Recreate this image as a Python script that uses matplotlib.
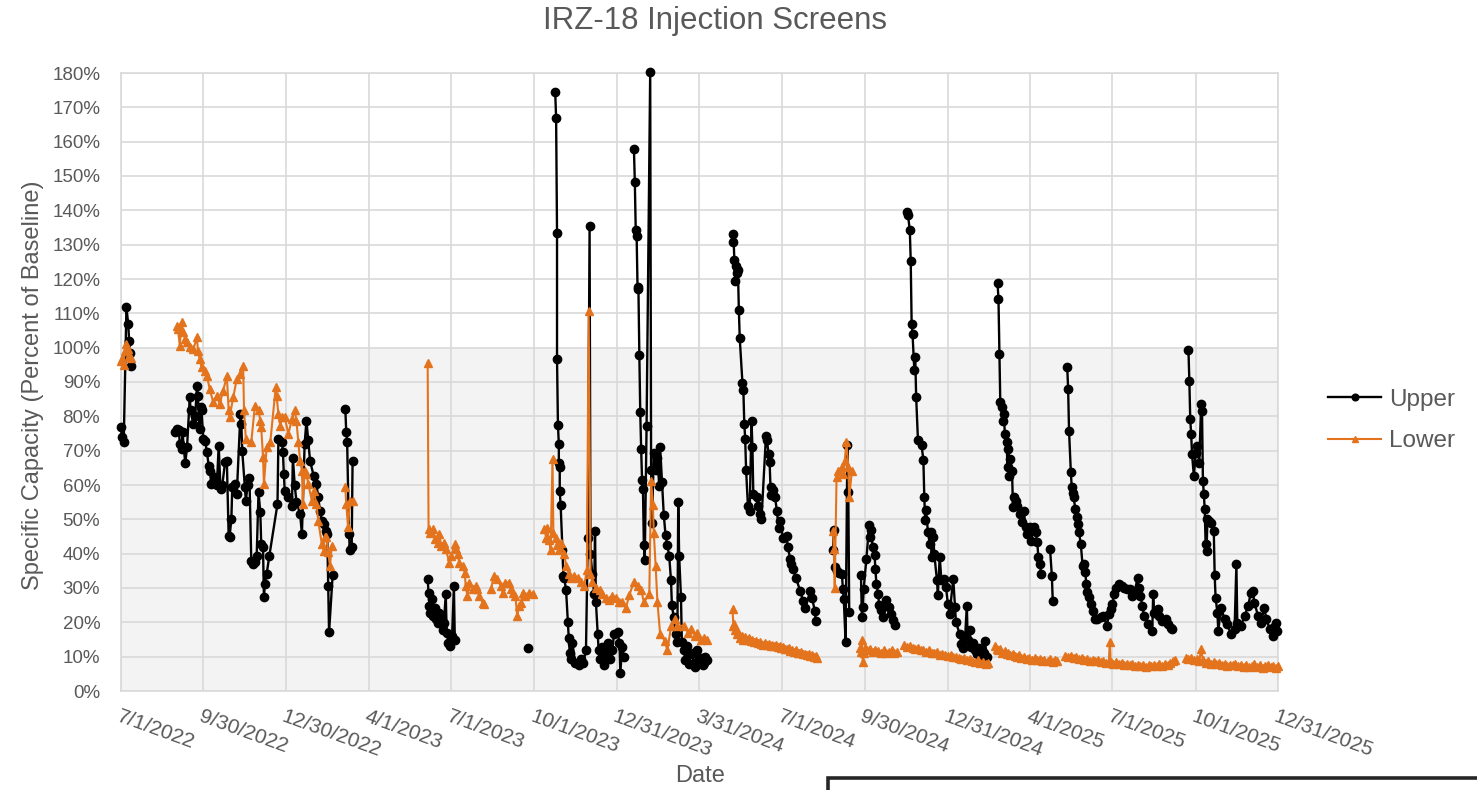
import numpy as np
import matplotlib
matplotlib.use("Agg")
import matplotlib.pyplot as plt
import matplotlib.dates as mdates
from matplotlib.patches import Rectangle

plt.rcParams['font.family'] = ['Liberation Sans', 'DejaVu Sans']

START_DATE = "2022-07-01"   # day 0 of the day offsets below
N = None                    # gap in the record

# ---------------- Upper screen (days since START_DATE, % of baseline) ----------------
upper_days = [
    0, 1, 3, 6, 8, 9, 10, 11, N,
    60, 62, 64, 65, 67, 68, 71, 73, 76, 77, 80, 82, 84, 85, 87, 88, 89, 91, 93, 95,
    97, 98, 100, 102, 104, 106, 108, 110, 112, 115, 117, 119, 120, 122, 123, 126, 128, 132, 133, 134,
    137, 138, 140, 142, 144, 146, 148, 150, 152, 154, 155, 157, 158, 159, 161, 164, 173, 174, 178, 179,
    180, 181, 185, 189, 190, 192, 194, 198, 200, 203, 205, 207, 209, 213, 216, 218, 220, 222, 224, 227,
    228, 229, 230, 234, N,
    248, 249, 250, 252, 253, 255, 256, N,
    339, 340, 341, 342, 344, 345, 347, 348, 350, 352, 354, 356, 357, 359, 360, 362, 364, 366, 368, 369, N,
    450, N,
    480, 481, 482, 482, 483, 484, 484, 485, 485, 486, 488, 489, 490, 492, 494, 495, 496, 497, 499, 502,
    506, 508, 511, 514, 516, 518, 519, 521, 523, 524, 525, 527, 528, 530, 532, 534, 536, 538, 539, 541,
    543, 545, 549, 551, 552, 554, 556, N,
    567, 568, 569, 570, 571, 572, 573, 574, 575, 576, 577, 578, 579, 581, 585, 586, 587, 589, 591, 593,
    595, 596, 598, 600, 602, 604, 606, 608, 609, 611, 613, 615, 616, 617, 619, 620, 622, 624, 626, 628,
    630, 632, 633, 635, 637, 639, 641, 643, 645, 646, 648, N,
    676, 677, 678, 679, 680, 681, 682, 683, 684, 687, 688, 689, 690, 691, 693, 695, 697, 698, 699, 703,
    704, 706, 708, 713, 714, 716, 717, 718, 719, 721, 723, 725, 727, 728, 732, 736, 737, 740, 741, 743,
    746, 751, 754, 756, 762, 764, 767, 768, N,
    787, 788, 789, 791, 794, 797, 798, 799, 801, 803, 804, 805, N,
    818, 819, 820, 821, 824, 827, 828, 829, 831, 833, 834, 835, 837, 838, 840, 842, 846, 849, 851, 853,
    856, N,
    869, 870, 872, 873, 874, 875, 877, 878, 879, 881, 885, 887, 888, 889, 890, 892, 894, 895, 896, 898,
    899, 902, 903, 905, 907, 910, 912, 914, 916, 920, 922, 923, 927, 929, 931, 933, 935, 936, 938, 940,
    942, 944, 946, 948, 950, 952, 954, 955, 957, N,
    969, 970, 971, 972, 974, 975, 976, 977, 979, 980, 981, 982, 983, 985, 986, 987, 989, 990, 994, 996,
    998, 1000, 1002, 1005, 1006, 1009, 1011, 1013, 1014, 1016, 1017, N,
    1027, 1029, 1030, N,
    1046, 1047, 1048, 1050, 1051, 1052, 1053, 1055, 1057, 1058, 1059, 1061, 1063, 1064, 1066, 1067, 1068,
    1070, 1072, 1075, 1077, 1079, 1083, 1086, 1090, 1092, 1094, 1096, 1098, 1100, 1103, 1106, 1109, 1112,
    1115, 1118, 1120, 1124, 1125, 1127, 1129, 1131, 1135, 1140, 1141, 1142, 1146, 1148, 1151, 1155, 1157,
    1161, 1162, N,
    1180, 1181, 1182, 1183, 1184, 1186, 1188, 1190, 1192, 1194, 1195, 1196, 1197, 1198, 1199, 1200, 1201,
    1203, 1205, 1208, 1209, 1210, 1212, 1213, 1216, 1220, 1223, 1227, 1231, 1233, 1234, 1238, 1242, 1246,
    1249, 1251, 1253, 1257, 1260, 1264, 1266, 1270, 1273, 1275, 1277, 1278,
]
upper_vals = [
    76.8, 73.9, 72.4, 111.7, 106.9, 102, 98.5, 94.8, N,
    75.3, 76.3, 76, 71.9, 70.5, 75.3, 66.3, 71, 85.5, 81.7, 77.8, 80, 88.9, 86, 76.3, 82.6, 81.7, 73.5, 72.9, 69.5,
    65.6, 64.2, 60.3, 61, 62.2, 60, 71.5, 58.8, 60, 66.6, 67.1, 45.2, 44.8, 50.1, 59.3, 60.3, 57.4, 80.7, 77.8, 70,
    59.3, 55.4, 60, 62, 38, 37, 37.5, 39.4, 57.9, 52, 42.8, 41.8, 27.3, 31.2, 34.1, 39.4, 54.5, 73.4, 72.4, 69.5,
    63.2, 58.3, 56.4, 54, 68, 60, 55, 51.6, 45.7, 72, 78.7, 73, 67, 62.7, 60.3, 56.4, 52.5, 49.6, 48.6, 46.7,
    45.7, 30.7, 17.1, 33.9, N,
    82, 75.3, 72.4, 45.7, 41.2, 41.8, 67, N,
    32.5, 28.6, 24.8, 22.8, 26.7, 21.8, 24.3, 20.9, 19.9, 22.8, 21.8, 17.9, 19.9, 28.2, 17, 14.1, 13.1, 16, 30.6, 15, N,
    12.6, N,
    174.4, 166.8, 133.5, 96.7, 77.6, 71.8, 66.5, 65.3, 58.2, 54.1, 41.2, 33.5, 32.9, 29.4, 20, 15.3, 11.2, 9.4, 14.1, 8.2,
    7.6, 9.4, 8.2, 11.8, 44.7, 135.3, 40, 34.1, 28.2, 46.5, 25.9, 16.5, 11.8, 9.4, 12.9, 7.6, 10.6, 14.1, 11.8, 9.4,
    11.8, 16.5, 17.1, 14.1, 5.3, 12.9, 10, N,
    158, 148.3, 134.4, 132.6, 117.6, 117, 97.9, 81.2, 70.4, 61.5, 58.7, 42.4, 38.2, 77.3, 180.4, 64.5, 49, 69.2, 64.5, 68,
    59.7, 71, 60.9, 51.3, 45.3, 42.4, 39.4, 32.2, 25, 21.5, 16.7, 14.3, 55.1, 39.4, 27.4, 14.3, 11.9, 9, 13.1, 8,
    10.7, 11, 8.3, 7, 11.9, 9, 9.5, 7.5, 8.3, 10, 9, N,
    130.7, 133.2, 125.6, 119.3, 123.7, 121.7, 122.5, 111, 102.7, 89.6, 87.6, 77.9, 73.5, 64.4, 54, 52.5, 78.6, 71, 57.4, 56.4,
    54, 51.5, 50, 74.4, 73, 69, 66.6, 59.3, 57, 58.6, 56.5, 52.5, 47.6, 49.5, 44.7, 45.2, 41.8, 38.4, 36.9, 35.5,
    33, 29, 26.1, 24.2, 29, 27, 23.3, 20.4, N,
    41, 46.8, 36.1, 35, 34.5, 34, 29.6, 26.7, 14.3, 71.6, 58, 23, N,
    33.7, 21.6, 24.5, 29.8, 38.5, 48.3, 44.9, 46.8, 41.9, 39.5, 35.6, 31.3, 28.3, 25, 23.5, 21.6, 26.4, 24.5, 22.5, 20.6,
    19.1, N,
    139.5, 138.5, 134.2, 125.2, 107, 103.9, 93.4, 97.3, 85.6, 73, 71.6, 67.2, 56.5, 49.7, 52.6, 46.3, 42.9, 46.3, 39, 44.9,
    40, 32.2, 27.9, 39, 32.2, 32.7, 30.3, 25.4, 22.5, 32.7, 24.5, 20.1, 16.7, 13.8, 12.5, 15, 24.9, 14.8, 17.7, 12.8,
    14, 11.8, 10.8, 12.5, 10.2, 12, 11, 14.7, 9.8, N,
    118.7, 114.2, 98.2, 84.1, 82.6, 78.7, 80.7, 74.9, 72.4, 65.1, 70.5, 62.7, 67.6, 64.2, 53.5, 56.4, 55.4, 54, 51.6, 49.1,
    52.5, 47.7, 45.7, 47.7, 43.8, 47.7, 46.2, 43.3, 38.9, 37, 34.1, N,
    41.4, 33.6, 26.3, N,
    94.3, 88, 75.8, 63.7, 59.3, 57.8, 56.4, 53, 50.6, 48.6, 46.2, 42.8, 36.5, 37, 34.6, 31.2, 28.7,
    27.3, 25.3, 23.4, 21, 21, 21.5, 21.8, 19, 22.4, 23.8, 25.3, 28.3, 30.1, 31.1, 30.6, 30.1, 29.7,
    29.6, 27.8, 28.6, 33, 30.1, 27.7, 24.8, 21.8, 19.4, 17.5, 28.2, 22.8, 23.8, 21.8, 20.4, 20.9, 19.4,
    18.4, 18, N,
    99.3, 90.3, 79.1, 74.8, 68.9, 62.6, 69.4, 71.4, 66.5, 83.5, 81.6, 61.2, 57.3, 52.9, 42.7, 40.8, 50,
    49.5, 49, 46.6, 33.7, 27.2, 22.8, 17.5, 24.3, 20.9, 19.4, 16.5, 18, 36.9, 19.9, 18.9, 21.8, 24.8,
    28.6, 29.1, 25.7, 21.8, 19.9, 24.3, 20.9, 18, 16, 18.5, 19.9, 17.5,
]

# ---------------- Lower screen ----------------
lower_days = [
    0, 1, 3, 4, 6, 8, 9, 11, N,
    62, 63, 65, 67, 69, 71, 73, 76, 80, 84, 85, 87, 89, 93, 95, 98, 102, 106, 109, 113,
    117, 119, 120, 124, 128, 132, 135, 136, 138, 144, 148, 152, 154, 155, 157, 158, 161, 165, 171, 172,
    174, 176, 178, 181, 185, 189, 192, 194, 196, 198, 200, 201, 203, 205, 207, 211, 213, 216, 218, 222,
    224, 225, 227, 229, 231, 233, N,
    248, 249, 251, 253, 256, N,
    339, 340, 342, 345, 347, 350, 352, 354, 357, 359, 363, 365, 369, 370, 372, 374, 378, 380, 381, 383,
    385, 389, 392, 394, 396, 400, 401, N,
    409, 412, 416, 420, 422, 425, 429, 431, 433, 436, 438, 440, 442, 444, 447, 451, 455, N,
    468, 470, 471, 473, 475, 477, 478, 481, 482, 484, 486, 490, 492, 495, 497, 501, 505, 508, 512, 515,
    517, 519, 521, 525, 529, 532, 536, 540, 543, 547, 551, 554, 558, 562, 567, 571, 575, 578, 584, 586,
    588, 589, 591, 593, 596, 601, 604, 608, 612, 615, 622, 627, 630, 635, 637, 641, 645, 648, N,
    676, 677, 678, 679, 681, 682, 684, 686, 688, 690, 692, 694, 696, 698, 700, 702, 704, 706, 708, 710,
    712, 714, 716, 718, 720, 722, 724, 726, 728, 730, 732, 734, 736, 738, 740, 742, 744, 746, 748, 750,
    752, 754, 756, 758, 760, 762, 764, 766, 768, 769, N,
    787, 788, 789, 791, 793, 797, 798, 800, 802, 804, 805, 808, N,
    817, 818, 819, 820, 821, 823, 825, 828, 831, 834, 837, 840, 843, 846, 849, 852, 855, 858, N,
    866, 869, 872, 875, 878, 881, 884, 887, 890, 893, 896, 899, 902, 905, 908, 911, 914, 917, 920, 923,
    926, 929, 932, 935, 938, 941, 944, 947, 950, 953, 956, 958, N,
    966, 968, 970, 972, 974, 977, 979, 981, 983, 986, 988, 990, 993, 995, 998, 1001, 1004, 1007, 1010, 1013,
    1016, 1018, 1020, N,
    1025, 1027, 1030, 1033, 1035, N,
    1044, 1047, 1050, 1053, 1056, 1059, 1062, 1065, 1068, 1071, 1074, 1077, 1080, 1083, 1086, 1089, 1092,
    1093, 1094, 1097, 1100, 1103, 1106, 1109, 1112, 1115, 1118, 1121, 1124, 1127, 1130, 1133, 1136, 1139,
    1142, 1145, 1148, 1151, 1154, 1157, 1160, 1163, 1165, N,
    1177, 1180, 1183, 1186, 1189, 1192, 1194, 1196, 1199, 1202, 1205, 1208, 1211, 1214, 1217, 1220, 1223,
    1226, 1229, 1232, 1235, 1238, 1241, 1244, 1247, 1250, 1253, 1256, 1259, 1262, 1265, 1268, 1271, 1274,
    1277, 1279,
]
lower_vals = [
    96.2, 96.7, 95, 99.1, 101, 99.6, 97.7, 97, N,
    106.4, 105.4, 100.6, 107.4, 104.5, 102.5, 101.6, 100.1, 99.6, 103, 99.1, 96.7, 94.3, 93.3, 91.8, 88, 84.1, 86, 83.6, 87.5,
    91.8, 81.7, 79.7, 85.5, 90.9, 92.3, 94.8, 81.7, 73.4, 72.4, 83.1, 81.7, 78.7, 76.8, 68.1, 60.3, 71, 72.4, 88.4, 86,
    80.7, 77.3, 79.7, 79.7, 74.9, 79.2, 81.7, 78.7, 72.4, 67.1, 64.2, 54.5, 64.2, 63.2, 60.3, 55.4, 58.3, 54.5, 49.6, 42.8,
    40.9, 44.8, 44.8, 40.4, 36.5, 42.3, N,
    59.3, 54.5, 47.7, 55.4, 55.4, N,
    95.6, 47.1, 46.1, 47.1, 44.2, 43.2, 45.6, 42.2, 43.2, 41.3, 37.4, 39.3, 42.7, 41.3, 39.8, 37.4, 36.4, 34.5, 30.6, 27.7,
    31.6, 29.6, 30.6, 29.6, 27.7, 25.7, 25.2, N,
    29.6, 33.5, 32.5, 30.6, 28.6, 31.6, 31.6, 29.6, 28.6, 27.7, 21.8, 24.8, 25.7, 28.6, 27.7, 28.6, 28.2, N,
    47.1, 44.7, 47.6, 44.1, 41.2, 67.6, 45.9, 44.7, 42.4, 41.2, 43, 40, 36.5, 34.1, 32.9, 33.5, 32.9, 31.8, 30.6, 35.3,
    110.6, 34.1, 31.8, 30, 29.4, 28.2, 27.1, 26.5, 27.6, 27.1, 25.9, 25.9, 24.1, 28, 31.8, 30.6, 29.4, 25.9, 28.2, 61.2,
    54.1, 45.9, 36.5, 25.9, 16.5, 14.7, 11.8, 18.8, 21, 19, 19, 17, 18, 16, 17, 15, 15.5, 15, N,
    23.8, 18.9, 19.6, 17.8, 16.5, 17.2, 15.5, 16, 15, 15.8, 14.8, 15.3, 14.5, 15, 14.3, 14.7, 14, 14.4, 13.7, 13.5,
    14, 13.3, 13.8, 13.1, 13.4, 13, 13.5, 12.8, 13.2, 12.6, 12.9, 12.3, 12.1, 12.6, 11.6, 12, 11.4, 11.8, 11.2, 11.1,
    11.5, 10.9, 10.8, 10.6, 10.9, 10.1, 10.4, 9.9, 10.2, 9.6, N,
    46.7, 41.3, 30.1, 62.3, 64.2, 65.2, 63.2, 67.1, 72.5, 65.2, 56.4, 64.2, N,
    12.5, 11.5, 14.8, 8.5, 11, 12.5, 11.8, 12.2, 11.4, 12, 11.6, 11, 11.8, 11.2, 11.5, 12, 11, 11.4, N,
    13.3, 12.8, 13, 12.5, 12.2, 12.6, 12, 11.8, 11.5, 11.9, 11.2, 11, 11.3, 10.6, 10.8, 10.4, 10.1, 10.5, 9.8, 10,
    9.6, 9.3, 9.7, 9, 9.2, 8.7, 8.4, 8.9, 8.2, 8.5, 7.9, 8.3, N,
    13.2, 12.2, 11.8, 12.3, 11.2, 11.6, 10.8, 11.2, 10.4, 10.9, 10.2, 9.8, 10.4, 9.6, 9.9, 9.4, 9.7, 9.1, 9.5, 8.9,
    9.2, 8.6, 9, N,
    8.8, 9.2, 8.5, 8.9, 8.6, N,
    10.3, 9.9, 10.1, 9.5, 9.8, 9.2, 9.5, 9, 9.3, 8.8, 9.1, 8.6, 8.9, 8.4, 8.7, 8.2, 8.5,
    14.2, 8.4, 8, 8.4, 7.8, 8.2, 7.6, 8, 7.5, 7.9, 7.3, 7.7, 7.2, 7.6, 7.1, 7.5, 7.2,
    7.7, 7.3, 7.8, 7.4, 7.9, 7.5, 8.3, 8.6, 8.9, N,
    9.5, 9.2, 9.6, 9, 9.3, 8.8, 12.1, 8.9, 8.3, 8.6, 8, 8.4, 7.8, 8.2, 7.6, 8, 7.3,
    7.7, 7.5, 7.9, 7.2, 7.6, 7.1, 7.5, 6.9, 7.4, 7.8, 7.1, 7.5, 6.8, 7.3, 7.7, 7, 7.4,
    6.8, 7.2,
]

tick_dates = ["2022-07-01", "2022-09-30", "2022-12-30", "2023-04-01", "2023-07-01",
              "2023-10-01", "2023-12-31", "2024-03-31", "2024-07-01", "2024-09-30",
              "2024-12-31", "2025-04-01", "2025-07-01", "2025-10-01", "2025-12-31"]
tick_labels = ["7/1/2022", "9/30/2022", "12/30/2022", "4/1/2023", "7/1/2023",
               "10/1/2023", "12/31/2023", "3/31/2024", "7/1/2024", "9/30/2024",
               "12/31/2024", "4/1/2025", "7/1/2025", "10/1/2025", "12/31/2025"]
y_ticks = list(range(0, 181, 10))

assert len(upper_days) == len(upper_vals)
assert len(lower_days) == len(lower_vals)

base = mdates.datestr2num(START_DATE)


def to_x(days):
    return np.array([np.nan if d is None else base + d for d in days], dtype=float)


def to_y(vals):
    return np.array([np.nan if v is None else v for v in vals], dtype=float)


W, H = 1477, 790
fig = plt.figure(figsize=(W / 100, H / 100), dpi=100)
ax = fig.add_axes([121 / W, 1 - 691 / H, (1278 - 121) / W, (691 - 73) / H])

GREY = '#595959'
GRID = '#d9d9d9'
ORANGE = '#e3731c'

ax.axhspan(0, 100, facecolor='#f3f3f3', edgecolor='none', zorder=0)

ax.plot(to_x(upper_days), to_y(upper_vals), color='#000000', lw=1.7, marker='o', ms=6.0,
        label='Upper', zorder=3, clip_on=False)
ax.plot(to_x(lower_days), to_y(lower_vals), color=ORANGE, lw=1.5, marker='^', ms=6.2,
        label='Lower', zorder=4, clip_on=False)

ticks_x = [mdates.datestr2num(d) for d in tick_dates]
ax.set_xlim(ticks_x[0], ticks_x[-1])
ax.set_ylim(0, 180)
ax.set_xticks(ticks_x)
ax.set_xticklabels(tick_labels)
ax.set_yticks(y_ticks)
ax.set_yticklabels([f"{v}%" for v in y_ticks])

ax.set_axisbelow(True)
ax.grid(True, color=GRID, lw=1.2)
for s in ax.spines.values():
    s.set_color(GRID)
    s.set_linewidth(1.2)
ax.tick_params(axis='both', length=0, colors=GREY)
ax.tick_params(axis='y', pad=15, labelsize=13.5)
ax.tick_params(axis='x', pad=11.5, labelsize=15)
for lab in ax.get_xticklabels():
    lab.set_rotation(-20)
    lab.set_ha('left')
    lab.set_va('top')
    lab.set_rotation_mode('anchor')

fig.text(715 / W, 1 - 21 / H, "IRZ-18 Injection Screens", ha='center', va='center',
         fontsize=22.5, color=GREY)
fig.text(33 / W, 1 - 385 / H, "Specific Capacity (Percent of Baseline)", rotation=90,
         ha='center', va='center', fontsize=17, color=GREY)
fig.text(700 / W, 1 - 776 / H, "Date", ha='center', va='center', fontsize=17, color=GREY)

leg = ax.legend(loc='center left', bbox_to_anchor=(1328 / W, 1 - 420.5 / H),
                bbox_transform=fig.transFigure, frameon=False, fontsize=17.5,
                handlelength=2.2, handletextpad=0.3, labelspacing=0.8,
                borderpad=0, borderaxespad=0, markerscale=0.8)
for t in leg.get_texts():
    t.set_color(GREY)

fig.patches.append(Rectangle((828 / W, -0.05), 0.6, 0.05 + (790 - 778) / H,
                             transform=fig.transFigure, facecolor='white',
                             edgecolor='#262626', lw=2.6, clip_on=False))

fig.savefig("out.png", dpi=100)
